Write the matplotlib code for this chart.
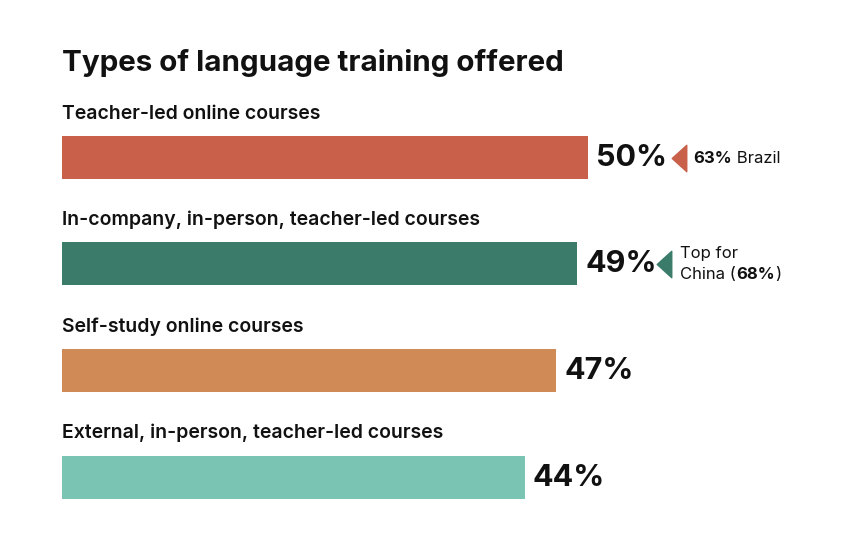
import matplotlib.pyplot as plt
from matplotlib.path import Path

plt.rcParams['font.family'] = ['Inter', 'DejaVu Sans']

title = 'Types of language training offered'
categories = ['Teacher-led online courses',
              'In-company, in-person, teacher-led courses',
              'Self-study online courses',
              'External, in-person, teacher-led courses']
values = [50, 49, 47, 44]
colors = ['#C9604A', '#3A7C69', '#CF8A55', '#7AC4B3']

# pixel layout (figure is 842x540 at dpi 100)
px_per_pct = 10.52
bar_y = [157.5, 263.5, 370, 477]
bar_h = 43

fig = plt.figure(figsize=(8.42, 5.4), dpi=100)
ax = fig.add_axes([62 / 842, 0, 780 / 842, 1])
ax.set_xlim(0, 780 / px_per_pct)
ax.set_ylim(540, 0)
ax.axis('off')

ax.barh(bar_y, values, height=bar_h, color=colors, left=0)

for y, cat, v in zip(bar_y, categories, values):
    ax.text(0, y - bar_h / 2 - 17, cat, fontsize=14, fontweight='semibold',
            color='#111111', va='baseline', ha='left')
    ax.text(v + 8 / px_per_pct, y + 1, f'{v}%', fontsize=22, fontweight='bold',
            color='#111111', va='center', ha='left')

ax.text(0, 71, title, fontsize=21.3, fontweight='bold', color='#111111',
        va='baseline', ha='left')

# left-pointing narrow triangle marker
tri = Path([(-0.55, 0), (0.55, 1), (0.55, -1), (-0.55, 0)],
           [Path.MOVETO, Path.LINETO, Path.LINETO, Path.CLOSEPOLY])

# annotation 1: Brazil
x1 = values[0] + 91 / px_per_pct
ax.plot([x1], [bar_y[0]], marker=tri, markersize=19, color=colors[0], linestyle='none')
t1 = ax.text(x1 + 14 / px_per_pct, bar_y[0] + 1, '63%', fontsize=12,
             fontweight='bold', color='#111111', va='center', ha='left')
ax.annotate(' Brazil', xy=(1, 0), xycoords=t1, fontsize=12, color='#111111',
            va='bottom', ha='left')

# annotation 2: China
x2 = values[1] + 87 / px_per_pct
ax.plot([x2], [bar_y[1]], marker=tri, markersize=19, color=colors[1], linestyle='none')
ax.text(x2 + 16 / px_per_pct, bar_y[1] - 10, 'Top for', fontsize=12,
        color='#111111', va='center', ha='left')
c1 = ax.text(x2 + 16 / px_per_pct, bar_y[1] + 11, 'China (', fontsize=12,
             color='#111111', va='center', ha='left')
c2 = ax.annotate('68%', xy=(1, 0), xycoords=c1, fontsize=12, fontweight='bold',
                 color='#111111', va='bottom', ha='left')
ax.annotate(')', xy=(1, 0), xycoords=c2, fontsize=12, color='#111111',
            va='bottom', ha='left')

fig.savefig('out.png', dpi=100, facecolor='white')
